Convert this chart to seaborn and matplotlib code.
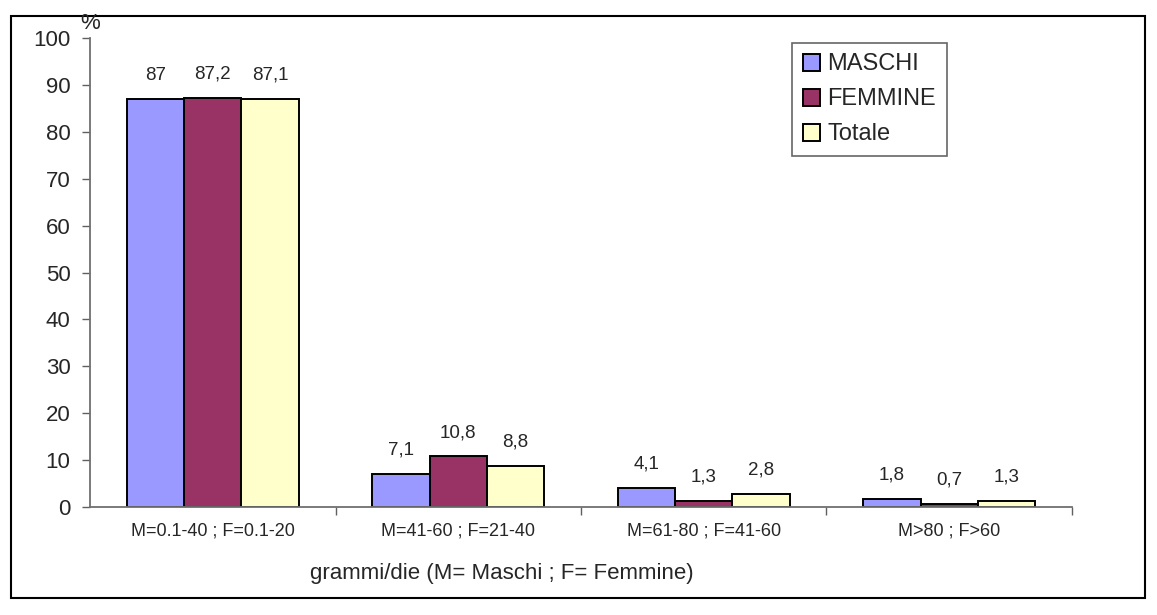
import pandas as pd
import matplotlib
matplotlib.use('Agg')
import matplotlib.pyplot as plt
import seaborn as sns
from matplotlib.patches import Rectangle

# Data
categories = ['M=0.1-40 ; F=0.1-20', 'M=41-60 ; F=21-40', 'M=61-80 ; F=41-60', 'M>80 ; F>60']
series = ['MASCHI', 'FEMMINE', 'Totale']
maschi = [87, 7.1, 4.1, 1.8]
femmine = [87.2, 10.8, 1.3, 0.7]
totale = [87.1, 8.8, 2.8, 1.3]
colors = ['#9999FF', '#993366', '#FFFFCC']

rows = []
for name, vals in zip(series, [maschi, femmine, totale]):
    for cat, v in zip(categories, vals):
        rows.append({'Categoria': cat, 'Serie': name, 'Valore': v})
df = pd.DataFrame(rows)

sns.set_style('white')
plt.rcParams['font.family'] = ['Liberation Sans', 'DejaVu Sans']

fig = plt.figure(figsize=(11.57, 6.15), dpi=100)
ax = fig.add_axes([0.0778, 0.1756, 0.8487, 0.7624])

sns.barplot(data=df, x='Categoria', y='Valore', hue='Serie', order=categories,
            hue_order=series, palette=colors, width=0.7, edgecolor='black',
            linewidth=1.4, saturation=1, ax=ax)

def fmt(v):
    s = f'{v:.1f}'
    if s.endswith('.0'):
        s = s[:-2]
    return s.replace('.', ',')

for cont in ax.containers:
    ax.bar_label(cont, labels=[fmt(b.get_height()) for b in cont], padding=11, fontsize=13.5)

ax.set_ylim(0, 100)
ax.set_xlim(-0.5, len(categories) - 0.5)
ax.set_yticks(range(0, 101, 10))
ax.tick_params(axis='y', labelsize=16, length=6, width=1, color='#606060', left=True, pad=8)
ax.tick_params(axis='x', which='major', labelsize=13, length=0, pad=11)
ax.set_xticks([i + 0.5 for i in range(len(categories) - 1)] + [len(categories) - 0.5], minor=True)
ax.tick_params(axis='x', which='minor', length=6, width=1, color='#606060', bottom=True)
ax.set_xlabel('')
ax.set_ylabel('')
for s in ['top', 'right']:
    ax.spines[s].set_visible(False)
for s in ['left', 'bottom']:
    ax.spines[s].set_color('#707070')
    ax.spines[s].set_linewidth(1.3)

leg = ax.legend(loc='upper left', bbox_to_anchor=(0.715, 0.99), fontsize=17, frameon=True,
                fancybox=False, edgecolor='#404040', handlelength=0.75, handleheight=0.75,
                handletextpad=0.3, labelspacing=0.55, borderpad=0.45, borderaxespad=0, title=None)
leg.get_frame().set_linewidth(1.2)

fig.text(0.078, 0.962, '%', fontsize=16, ha='center', va='center')
fig.text(0.268, 0.068, 'grammi/die (M= Maschi ; F= Femmine)', fontsize=16, ha='left', va='center')

fig.patches.append(Rectangle((0.0095, 0.0276), 0.980, 0.946, transform=fig.transFigure,
                             fill=False, edgecolor='black', linewidth=1.5))

fig.savefig('out.png', dpi=100)
